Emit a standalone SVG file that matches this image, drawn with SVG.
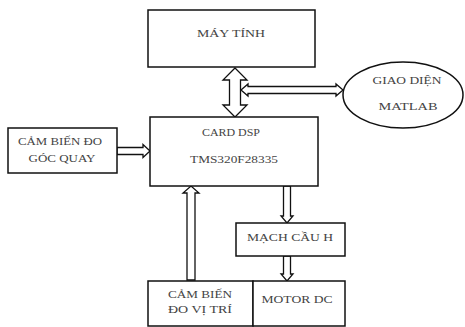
<svg xmlns="http://www.w3.org/2000/svg" width="465" height="327" viewBox="0 0 465 327">
<style>
.box{fill:#fff;stroke:#111;stroke-width:1.5}
.arr{fill:#fff;stroke:#111;stroke-width:1.3;stroke-linejoin:miter}
text{font-family:"Liberation Serif","Times New Roman",serif;font-size:11px;fill:#444;text-anchor:middle}
</style>
<rect width="465" height="327" fill="#fff"/>
<g id="connectors">
<polygon class="arr" points="235,68 247,80 240.5,80 240.5,105 247,105 235,117 223,105 229.5,105 229.5,80 223,80"/>
<polygon class="arr" points="241,90 248,84 248,86.5 336,86.5 336,84 343,90 336,96 336,93.5 248,93.5 248,96"/>
<polygon class="arr" points="117,147.5 143,147.5 143,144.5 150,151 143,157.5 143,154.5 117,154.5"/>
<polygon class="arr" points="283.5,186 290.5,186 290.5,216 293,216 287,223 281,216 283.5,216"/>
<polygon class="arr" points="283.5,256 290.5,256 290.5,274 293,274 287,281 281,274 283.5,274"/>
<polygon class="arr" points="187,280 195,280 195,193 199,193 191,186 183,193 187,193"/>
</g>
<g id="may-tinh">
<rect class="box" x="148" y="10" width="167" height="57"/>
<text x="231" y="37" textLength="68" lengthAdjust="spacingAndGlyphs">MÁY TÍNH</text>
</g>
<g id="card-dsp">
<rect class="box" x="150" y="117" width="168" height="69"/>
<text x="231" y="136" textLength="58" lengthAdjust="spacingAndGlyphs">CARD DSP</text>
<text x="234" y="163" textLength="88" lengthAdjust="spacingAndGlyphs">TMS320F28335</text>
</g>
<g id="giao-dien-matlab">
<ellipse class="box" cx="403" cy="95" rx="60" ry="33"/>
<text x="407" y="84" textLength="69" lengthAdjust="spacingAndGlyphs">GIAO DIỆN</text>
<text x="408" y="110" textLength="59" lengthAdjust="spacingAndGlyphs">MATLAB</text>
</g>
<g id="cam-bien-goc-quay">
<rect class="box" x="8" y="128" width="109" height="45"/>
<text x="60" y="145" textLength="84" lengthAdjust="spacingAndGlyphs">CẢM BIẾN ĐO</text>
<text x="62" y="162" textLength="67" lengthAdjust="spacingAndGlyphs">GÓC QUAY</text>
</g>
<g id="mach-cau-h">
<rect class="box" x="236" y="223" width="109" height="33"/>
<text x="290" y="241" textLength="86" lengthAdjust="spacingAndGlyphs">MẠCH CẦU H</text>
</g>
<g id="cam-bien-vi-tri">
<rect class="box" x="148" y="281" width="105" height="45"/>
<text x="200" y="298" textLength="64" lengthAdjust="spacingAndGlyphs">CẢM BIẾN</text>
<text x="200" y="313" textLength="64" lengthAdjust="spacingAndGlyphs">ĐO VỊ TRÍ</text>
</g>
<g id="motor-dc">
<rect class="box" x="253" y="281" width="92" height="45"/>
<text x="297" y="303" textLength="71" lengthAdjust="spacingAndGlyphs">MOTOR DC</text>
</g>
</svg>
